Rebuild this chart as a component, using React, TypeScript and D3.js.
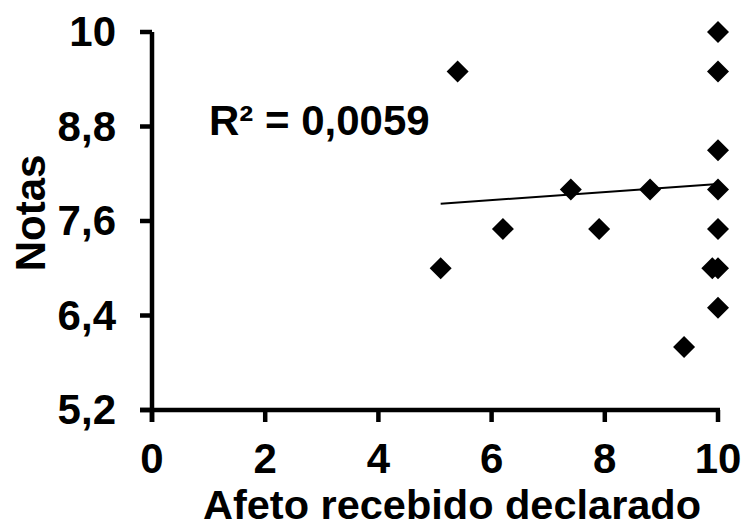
import React from "react";
import * as d3 from "d3";

const afeto = [5.1, 5.4, 6.2, 7.4, 7.9, 8.8, 9.4, 9.9, 10, 10, 10, 10, 10, 10, 10];
const notas = [7.0, 9.5, 7.5, 8.0, 7.5, 8.0, 6.0, 7.0, 10, 9.5, 8.5, 8.0, 7.5, 7.0, 6.5];
const xTicks = [0, 2, 4, 6, 8, 10];
const yTicks = [5.2, 6.4, 7.6, 8.8, 10];
const trendX = [5.1, 10];
const trendY = [7.82, 8.07];
const r2Label = "R² = 0,0059";
const xTitle = "Afeto recebido declarado";
const yTitle = "Notas";

const W = 746;
const H = 528;
const FONT = "'Liberation Sans', Arial, sans-serif";

export default function App() {
  const x = d3.scaleLinear().domain([0, 10]).range([152, 718]);
  const y = d3.scaleLinear().domain([5.2, 10]).range([410, 32]);
  const fmt = (v: number) => String(v).replace(".", ",");
  const line = d3.line<number>()
    .x((_, i) => x(trendX[i]))
    .y((d) => y(d));
  const r = 11;
  const diamond = (cx: number, cy: number) =>
    `M${cx},${cy - r}L${cx + r},${cy}L${cx},${cy + r}L${cx - r},${cy}Z`;
  return (
    <svg
      width={W}
      height={H}
      style={{ position: "absolute", left: 0, top: 0, background: "#fff" }}
      fontFamily={FONT}
    >
      <rect width={W} height={H} fill="#fff" />
      {/* y axis */}
      <line x1={x(0)} x2={x(0)} y1={y(10)} y2={y(5.2) + 12} stroke="#000" strokeWidth={4.5} />
      {yTicks.map((t) => (
        <g key={"y" + t}>
          <line x1={x(0) - 12} x2={x(0)} y1={y(t)} y2={y(t)} stroke="#000" strokeWidth={4.5} />
          <text
            x={116}
            y={y(t)}
            dy="0.34em"
            textAnchor="end"
            fontSize={42}
            fontWeight="bold"
          >
            {fmt(t)}
          </text>
        </g>
      ))}
      {/* x axis */}
      <line x1={x(0) - 12} x2={x(10) + 2} y1={y(5.2)} y2={y(5.2)} stroke="#000" strokeWidth={4.5} />
      {xTicks.map((t) => (
        <g key={"x" + t}>
          <line x1={x(t)} x2={x(t)} y1={y(5.2)} y2={y(5.2) + 12} stroke="#000" strokeWidth={4.5} />
          <text
            x={x(t)}
            y={473}
            textAnchor="middle"
            fontSize={42}
            fontWeight="bold"
          >
            {String(t)}
          </text>
        </g>
      ))}
      <text x={452} y={519} textAnchor="middle" fontSize={41.5} fontWeight="bold">
        {xTitle}
      </text>
      <text
        transform={`translate(45,${213}) rotate(-90)`}
        textAnchor="middle"
        fontSize={42}
        fontWeight="bold"
      >
        {yTitle}
      </text>
      <path d={line(trendY) || ""} fill="none" stroke="#000" strokeWidth={2} />
      {afeto.map((a, i) => (
        <path key={"p" + i} d={diamond(x(a), y(notas[i]))} fill="#000" />
      ))}
      <text x={209} y={135} fontSize={42} fontWeight="bold">
        {r2Label}
      </text>
    </svg>
  );
}
